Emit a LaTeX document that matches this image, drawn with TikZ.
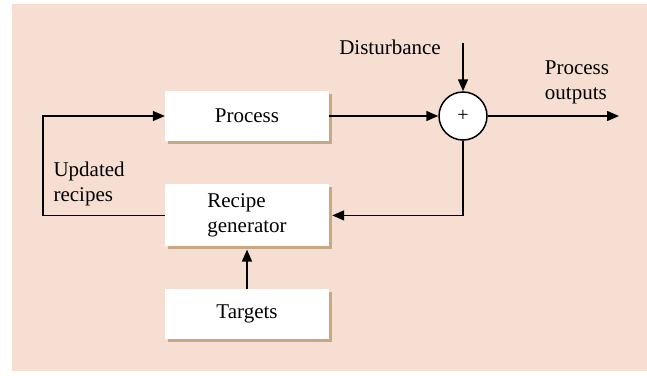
\documentclass[tikz,border=0pt]{standalone}
\usepackage{fontspec}
\setmainfont{Liberation Serif}
\usepackage{xcolor}
\usetikzlibrary{shapes,arrows.meta,positioning,calc,shadows}
\definecolor{bgpeach}{RGB}{246,222,210}
\definecolor{shadowtan}{RGB}{200,168,130}

\begin{document}
\begin{tikzpicture}[x=1pt, y=-1pt, node distance=43pt,
    font=\fontsize{21}{25}\selectfont,
    block/.style={fill=white, minimum width=164pt, minimum height=50pt, inner sep=0pt,
        drop shadow={shadow xshift=3pt, shadow yshift=-3pt, fill=shadowtan, opacity=1}},
    conn/.style={line width=1.5pt, -{Triangle[length=12pt,width=10pt]}}]
    \useasboundingbox (0,0) rectangle (647,375);
    \fill[bgpeach] (12,4) rectangle (647,371);

    \node (process) [block] at (247,116) {Process};
    \node (recipe) [block, minimum height=62pt, align=left, below=of process] {Recipe\\generator};
    \node (targets) [block, below=42pt of recipe] {Targets};
    \node (sum) [draw, circle, fill=white, line width=1.5pt, minimum size=48pt, inner sep=0pt,
        font=\fontsize{20}{20}\selectfont] at (463,116) {+};

    \coordinate (dist) at (463,43);
    \coordinate (out) at (619,116);
    \coordinate (loop) at (43,0);

    \node (disttext) at (390,47) {Disturbance};
    \node (outtext) [align=left] at (577,82) {Process\\outputs};
    \node (updtext) [align=left, anchor=west] at (50,184) {Updated\\recipes};

    \draw [conn] (dist) -- (sum.north);
    \draw [conn] (process.east) -- (sum.west);
    \draw [conn] (sum.east) -- (out);
    \draw [conn, shorten >=3pt] (sum.south) |- (recipe.east);
    \draw [conn, shorten >=3pt] (targets.north) -- (recipe.south);
    \draw [conn] (recipe.west) -- (recipe.west -| loop) |- (process.west);
\end{tikzpicture}
\end{document}
